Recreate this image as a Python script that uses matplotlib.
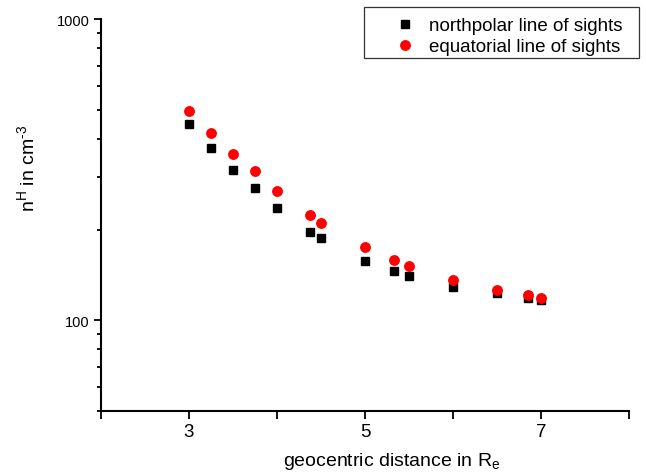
import matplotlib.pyplot as plt
from matplotlib.patches import Rectangle
from matplotlib.ticker import FixedLocator, NullFormatter, FixedFormatter

plt.rcParams['font.family'] = ['Liberation Sans', 'DejaVu Sans']
plt.rcParams['mathtext.fontset'] = 'custom'
plt.rcParams['mathtext.rm'] = 'Liberation Sans'

# northpolar line of sights
x_north = [3.0, 3.25, 3.5, 3.75, 4.0, 4.375, 4.5, 5.0, 5.33, 5.5, 6.0, 6.5, 6.85, 7.0]
n_north = [449, 373, 316, 274, 236, 197, 187, 157, 146, 140, 129, 123, 119, 117]

# equatorial line of sights
x_equat = [3.0, 3.25, 3.5, 3.75, 4.0, 4.375, 4.5, 5.0, 5.33, 5.5, 6.0, 6.5, 6.85, 7.0]
n_equat = [495, 419, 357, 313, 269, 224, 211, 175, 159, 151, 136, 126, 121, 119]

fig = plt.figure(figsize=(6.46, 4.77), dpi=100)
ax = fig.add_axes([101 / 646, 65 / 477, 528 / 646, 392 / 477])

ax.plot(x_north, n_north, 's', color='black', markersize=6, label='northpolar line of sights')
ax.plot(x_equat, n_equat, 'o', color='red', markersize=6.8, label='equatorial line of sights')

ax.set_yscale('log')
ax.set_xlim(2, 8)
ax.set_ylim(50, 1000)

ax.xaxis.set_major_locator(FixedLocator([3, 5, 7]))
ax.xaxis.set_minor_locator(FixedLocator([2, 4, 6, 8]))
ax.yaxis.set_major_locator(FixedLocator([100, 1000]))
ax.yaxis.set_major_formatter(FixedFormatter(['100', '1000']))
ax.yaxis.set_minor_locator(FixedLocator([50, 60, 70, 80, 90, 200, 300, 400, 500, 600, 700, 800, 900]))
ax.yaxis.set_minor_formatter(NullFormatter())

for side in ['top', 'right']:
    ax.spines[side].set_visible(False)
for side in ['left', 'bottom']:
    ax.spines[side].set_linewidth(1.5)

ax.tick_params(axis='x', which='both', direction='out', length=6, width=1.3, labelsize=13.5, pad=3)
ax.tick_params(axis='y', which='major', direction='out', length=5, width=1.3, labelsize=10.5, pad=3)
ax.tick_params(axis='y', which='minor', direction='out', length=3, width=1.3)

ax.set_xlabel('geocentric distance in R$_\\mathregular{e}$', fontsize=14)
ax.xaxis.set_label_coords(0.551, -0.1)
ax.set_ylabel('n$^\\mathregular{H}$ in cm$^{\\text{-3}}$', fontsize=14)
ax.yaxis.set_label_coords(-0.117, 0.622)

# legend with a separate frame box
box = Rectangle((364 / 646, 1 - 59 / 477), 275 / 646, 51 / 477,
                transform=fig.transFigure, facecolor='white',
                edgecolor='#333333', linewidth=0.9, clip_on=False, zorder=4)
ax.add_patch(box)
leg = ax.legend(loc='upper left', bbox_to_anchor=(386 / 646, 1 - 18 / 477),
                bbox_transform=fig.transFigure, fontsize=13.5, frameon=False,
                borderpad=0, borderaxespad=0, handlelength=2.0,
                handletextpad=0.3, labelspacing=0.22)
leg.set_zorder(6)

fig.savefig('out.png', dpi=100)
